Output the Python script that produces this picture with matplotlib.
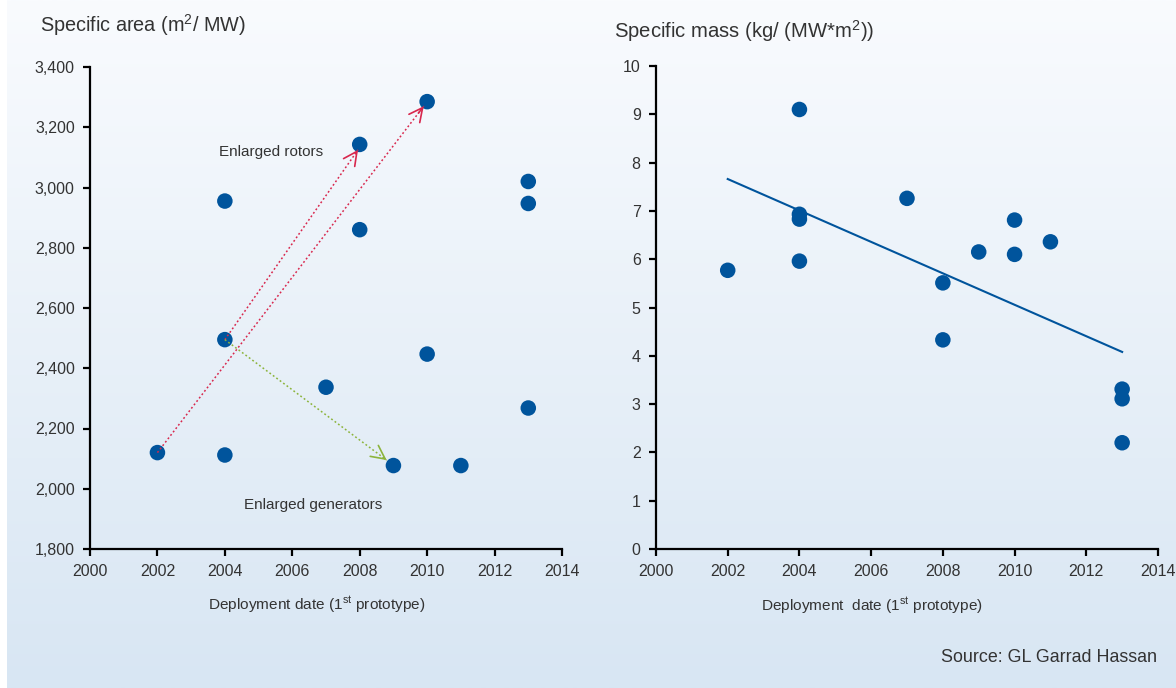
import matplotlib
matplotlib.use("Agg")
import matplotlib.pyplot as plt
import numpy as np

# ---------------- data ----------------
area_years = [2002, 2004, 2004, 2004, 2007, 2008, 2008, 2009, 2010, 2010, 2011, 2013, 2013, 2013]
area_values = [2120, 2112, 2955, 2495, 2337, 3143, 2860, 2077, 3285, 2447, 2077, 3020, 2947, 2268]

mass_years = [2002, 2004, 2004, 2004, 2004, 2007, 2008, 2008, 2009, 2010, 2010, 2011, 2013, 2013, 2013]
mass_values = [5.77, 9.10, 6.93, 6.83, 5.96, 7.26, 5.51, 4.33, 6.15, 6.81, 6.10, 6.36, 3.31, 3.11, 2.20]

trend_years = [2002, 2013]
trend_values = [7.66, 4.08]

# arrows: (start_x, start_y, end_x, end_y)
rotor_arrows = [(2004, 2495, 2007.95, 3125), (2002, 2120, 2009.9, 3270)]
generator_arrows = [(2004, 2495, 2008.8, 2095)]

area_yticks = [1800, 2000, 2200, 2400, 2600, 2800, 3000, 3200, 3400]
mass_yticks = list(range(0, 11))
xticks = [2000, 2002, 2004, 2006, 2008, 2010, 2012, 2014]

# ---------------- style ----------------
FONT = ['Liberation Sans', 'DejaVu Sans']
plt.rcParams['font.family'] = FONT
plt.rcParams['mathtext.fontset'] = 'custom'
plt.rcParams['mathtext.rm'] = 'Liberation Sans'
plt.rcParams['mathtext.it'] = 'Liberation Sans:italic'
TXT = '#333333'
BLUE = '#00549C'
RED = '#D8274D'
GREEN = '#8CB43C'

W, H = 1176, 688
fig = plt.figure(figsize=(W / 100, H / 100), dpi=100)

# gradient background
bg = fig.add_axes([7 / W, 0, 1 - 7 / W, 1])
bg.set_axis_off()
grad = np.linspace(0, 1, 256).reshape(-1, 1)
top = np.array([0xF9, 0xFB, 0xFE]) / 255
bot = np.array([0xD8, 0xE6, 0xF3]) / 255
img = top[None, None, :] * (1 - grad[:, :, None]) + bot[None, None, :] * grad[:, :, None]
bg.imshow(img, aspect='auto', extent=[0, 1, 0, 1], origin='upper')
bg.set_xlim(0, 1)
bg.set_ylim(0, 1)


def style_axes(ax):
    ax.patch.set_alpha(0)
    for s in ['top', 'right']:
        ax.spines[s].set_visible(False)
    for s in ['left', 'bottom']:
        ax.spines[s].set_linewidth(1.6)
        ax.spines[s].set_color('black')
    ax.tick_params(direction='out', length=5, width=1.6, color='black',
                   labelsize=11.5, labelcolor=TXT, pad=6)
    ax.set_xticks(xticks)
    ax.set_xlim(2000, 2014)


DOT = (0, (1.2, 1.6))


def dotted_arrow(ax, x0, y0, x1, y1, color):
    ax.plot([x0, x1], [y0, y1], color=color, lw=1.1, linestyle=DOT, zorder=3)
    f = 0.02
    ax.annotate('', xy=(x1, y1), xytext=(x1 - f * (x1 - x0), y1 - f * (y1 - y0)),
                arrowprops=dict(arrowstyle='->,head_length=0.7,head_width=0.35', color=color,
                                lw=1.2, mutation_scale=14, shrinkA=0, shrinkB=0), zorder=3)


# left axes
ax1 = fig.add_axes([90 / W, (H - 549) / H, 472 / W, 482 / H])
style_axes(ax1)
ax1.set_ylim(1800, 3400)
ax1.set_yticks(area_yticks)
ax1.set_yticklabels([f"{v:,}" for v in area_yticks])
for (x0, y0, x1, y1) in rotor_arrows:
    dotted_arrow(ax1, x0, y0, x1, y1, RED)
for (x0, y0, x1, y1) in generator_arrows:
    dotted_arrow(ax1, x0, y0, x1, y1, GREEN)
ax1.scatter(area_years, area_values, s=125, color=BLUE, edgecolors='none', zorder=2)
ax1.text(2003.83, 3118, 'Enlarged rotors', fontsize=11, color=TXT, ha='left', va='center')
ax1.text(2004.57, 1946, 'Enlarged generators', fontsize=11, color=TXT, ha='left', va='center')

# right axes
ax2 = fig.add_axes([656 / W, (H - 549) / H, 502 / W, 483 / H])
style_axes(ax2)
ax2.set_ylim(0, 10)
ax2.set_yticks(mass_yticks)
ax2.plot(trend_years, trend_values, color=BLUE, lw=1.5, zorder=2)
ax2.scatter(mass_years, mass_values, s=125, color=BLUE, edgecolors='none', zorder=3)

# titles
fig.text(40 / W, 1 - 25 / H, 'Specific area (m$^{2}$/ MW)', fontsize=14.3, color=TXT,
         ha='left', va='center')
fig.text(614 / W, 1 - 31 / H, 'Specific mass (kg/ (MW*m$^{2}$))', fontsize=14.6, color=TXT,
         ha='left', va='center')

# x labels
fig.text(317 / W, 1 - 605 / H, 'Deployment date (1$^{\\mathrm{st}}$ prototype)', fontsize=11.1,
         color=TXT, ha='center', va='center')
fig.text(872 / W, 1 - 606 / H, 'Deployment  date (1$^{\\mathrm{st}}$ prototype)', fontsize=11.1,
         color=TXT, ha='center', va='center')

# source
fig.text(1157 / W, 1 - 657 / H, 'Source: GL Garrad Hassan', fontsize=12.9, color=TXT,
         ha='right', va='center')

fig.savefig('out.png', dpi=100)
